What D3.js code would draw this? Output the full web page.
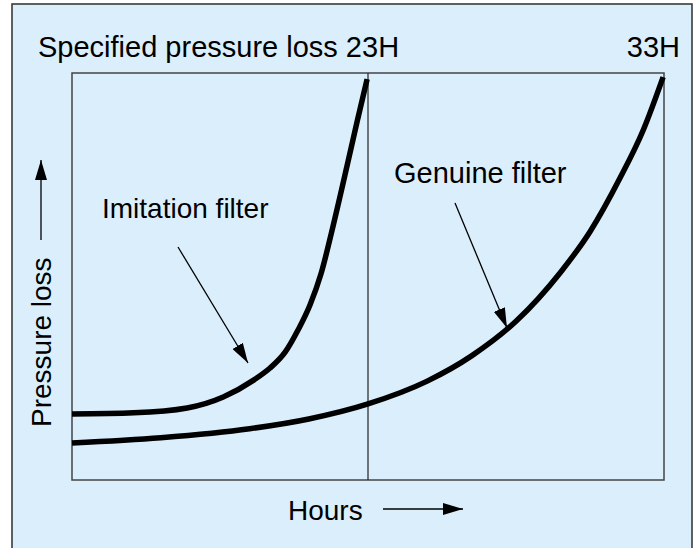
<!DOCTYPE html>
<html><head><meta charset="utf-8">
<script src="https://cdn.jsdelivr.net/npm/d3@7"></script>
<style>html,body{margin:0;padding:0;background:#fff;}svg{display:block;font-family:"Liberation Sans",Arial,Helvetica,sans-serif;}</style>
</head><body>
<script>
// Hours (x) and relative pressure loss (y, 0..100)
const imitationHours = [13.0, 15.09, 16.89, 18.11, 19.15, 19.69, 20.2, 20.64, 21.04, 21.41, 21.82, 22.29, 22.63, 22.97];
const imitationLoss  = [16.2, 16.5, 17.7, 20.4, 24.6, 27.5, 31.4, 36.9, 43.0, 50.6, 62.4, 77.1, 88.0, 98.5];
const genuineHours = [13.0, 16.0, 19.0, 21.0, 23.0, 25.0, 26.5, 28.0, 29.5, 30.5, 31.5, 32.3, 32.97];
const genuineLoss  = [9.1, 10.4, 12.6, 15.0, 18.7, 24.3, 30.5, 39.0, 51.0, 61.0, 74.0, 86.0, 99.0];
const markerHours = [23, 33];
const markerLabels = ["Specified pressure loss 23H", "33H"];
const seriesLabels = ["Imitation filter", "Genuine filter"];
const axisLabels = ["Hours", "Pressure loss"];

const W = 698, H = 548;
const plot = {left: 72, right: 664, top: 73, bottom: 480};
const svg = d3.select("body").append("svg").attr("width", W).attr("height", H);

svg.append("defs").append("marker").attr("id", "ah")
  .attr("viewBox", "0 0 20 12").attr("refX", 20).attr("refY", 6)
  .attr("markerWidth", 20).attr("markerHeight", 12).attr("markerUnits", "userSpaceOnUse")
  .attr("orient", "auto")
  .append("path").attr("d", "M0,0L20,6L0,12Z").attr("fill", "#000");

// outer panel
svg.append("rect").attr("x", 12).attr("y", 4).attr("width", 680).attr("height", 560)
  .attr("fill", "#dbeefc").attr("stroke", "#3a3a3a").attr("stroke-width", 1.6);

const x = d3.scaleLinear().domain([13, 33]).range([plot.left, plot.right]);
const y = d3.scaleLinear().domain([0, 100]).range([plot.bottom, plot.top]);

svg.append("rect").attr("x", plot.left).attr("y", plot.top)
  .attr("width", plot.right - plot.left).attr("height", plot.bottom - plot.top)
  .attr("fill", "none").attr("stroke", "#444").attr("stroke-width", 1.5);

svg.append("line").attr("x1", x(markerHours[0])).attr("x2", x(markerHours[0]))
  .attr("y1", plot.top).attr("y2", plot.bottom).attr("stroke", "#222").attr("stroke-width", 1.2);

const line = d3.line().x(d => x(d[0])).y(d => y(d[1])).curve(d3.curveMonotoneX);
[[imitationHours, imitationLoss], [genuineHours, genuineLoss]].forEach(([hs, ls]) => {
  svg.append("path").datum(hs.map((h, i) => [h, ls[i]])).attr("d", line)
    .attr("fill", "none").attr("stroke", "#000").attr("stroke-width", 5.5);
});

svg.append("text").attr("x", 38).attr("y", 57).attr("font-size", 29).text(markerLabels[0]);
svg.append("text").attr("x", 680).attr("y", 57).attr("font-size", 29).attr("text-anchor", "end").text(markerLabels[1]);

svg.append("text").attr("x", 102).attr("y", 218).attr("font-size", 28).text(seriesLabels[0]);
svg.append("text").attr("x", 394).attr("y", 183).attr("font-size", 29).text(seriesLabels[1]);

svg.append("line").attr("x1", 178).attr("y1", 247).attr("x2", 248).attr("y2", 363)
  .attr("stroke", "#000").attr("stroke-width", 1.3).attr("marker-end", "url(#ah)");
svg.append("line").attr("x1", 455).attr("y1", 203).attr("x2", 507).attr("y2", 328)
  .attr("stroke", "#000").attr("stroke-width", 1.3).attr("marker-end", "url(#ah)");

svg.append("text").attr("x", 288).attr("y", 520).attr("font-size", 28).text(axisLabels[0]);
svg.append("line").attr("x1", 383).attr("y1", 509).attr("x2", 463).attr("y2", 509)
  .attr("stroke", "#000").attr("stroke-width", 1.3).attr("marker-end", "url(#ah)");

svg.append("text").attr("transform", "translate(51,427) rotate(-90)").attr("font-size", 28).text(axisLabels[1]);
svg.append("line").attr("x1", 41).attr("y1", 240).attr("x2", 41).attr("y2", 160)
  .attr("stroke", "#000").attr("stroke-width", 1.3).attr("marker-end", "url(#ah)");
</script>
</body></html>
